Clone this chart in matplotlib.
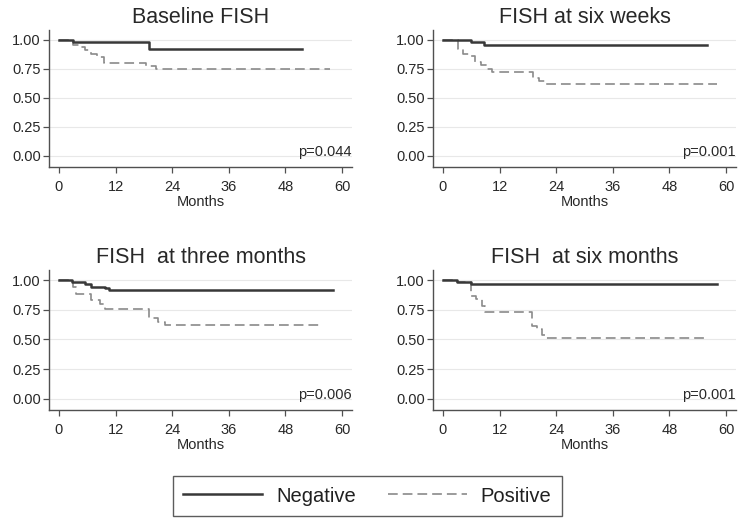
import matplotlib
matplotlib.use("Agg")
import matplotlib.pyplot as plt
from matplotlib.lines import Line2D
import matplotlib.transforms as mtransforms

plt.rcParams['font.family'] = ['Liberation Sans', 'DejaVu Sans']
plt.rcParams['lines.scale_dashes'] = False

titles = ["Baseline FISH", "FISH at six weeks", "FISH  at three months", "FISH  at six months"]
p_values = ["p=0.044", "p=0.001", "p=0.006", "p=0.001"]
x_ticks = [0, 12, 24, 36, 48, 60]
y_ticks = [0.00, 0.25, 0.50, 0.75, 1.00]
legend_labels = ["Negative", "Positive"]

# Kaplan-Meier step data (months, survival) per panel
neg_t1 = [0, 3.0, 19.1, 51.5]
neg_s1 = [1.0, 0.98, 0.92, 0.92]
pos_t1 = [0, 3.0, 4.2, 5.5, 6.8, 8.0, 9.5, 18.5, 20.5, 57.5]
pos_s1 = [1.0, 0.96, 0.94, 0.91, 0.88, 0.85, 0.80, 0.775, 0.75, 0.75]

neg_t2 = [0, 3.1, 5.9, 8.8, 56.0]
neg_s2 = [1.0, 0.995, 0.98, 0.955, 0.955]
pos_t2 = [0, 3.1, 4.3, 5.5, 6.8, 8.0, 9.3, 10.4, 19.0, 20.3, 21.7, 58.0]
pos_s2 = [1.0, 0.92, 0.88, 0.86, 0.81, 0.78, 0.75, 0.725, 0.675, 0.645, 0.62, 0.62]

neg_t3 = [0, 2.7, 5.5, 6.9, 9.7, 10.7, 58.0]
neg_s3 = [1.0, 0.985, 0.965, 0.945, 0.93, 0.918, 0.918]
pos_t3 = [0, 3.0, 3.6, 6.9, 8.6, 9.7, 19.0, 21.0, 22.4, 56.0]
pos_s3 = [1.0, 0.94, 0.88, 0.83, 0.80, 0.76, 0.68, 0.645, 0.62, 0.62]

neg_t4 = [0, 2.9, 5.9, 58.0]
neg_s4 = [1.0, 0.985, 0.963, 0.963]
pos_t4 = [0, 3.0, 5.9, 7.0, 8.2, 9.0, 18.8, 19.9, 21.0, 21.8, 55.5]
pos_s4 = [1.0, 0.985, 0.87, 0.84, 0.78, 0.73, 0.61, 0.585, 0.54, 0.51, 0.51]

neg_t = [neg_t1, neg_t2, neg_t3, neg_t4]
neg_s = [neg_s1, neg_s2, neg_s3, neg_s4]
pos_t = [pos_t1, pos_t2, pos_t3, pos_t4]
pos_s = [pos_s1, pos_s2, pos_s3, pos_s4]

W, H = 746, 525
fig = plt.figure(figsize=(W / 100, H / 100), dpi=100)

# axes boxes in pixels: left, right, top, bottom
boxes = [(49, 352, 30, 167), (433, 736, 30, 167), (49, 352, 270, 410), (433, 736, 270, 410)]

neg_color = '#383838'
pos_color = '#8a8a8a'
dash = (0, (7.0, 3.6))
text_color = '#282828'
spine_color = '#505050'

for i, (l, r, t, b) in enumerate(boxes):
    ax = fig.add_axes([l / W, (H - b) / H, (r - l) / W, (b - t) / H])
    ax.set_xlim(-2.1, 62.1)
    ax.set_ylim(-0.095, 1.085)
    for yv in y_ticks:
        ax.axhline(yv, color='#e8e8e8', lw=0.8, zorder=0)
    ax.step(neg_t[i], neg_s[i], where='post', color=neg_color, lw=1.8, zorder=3)
    ax.step(pos_t[i], pos_s[i], where='post', color=pos_color, lw=1.2, linestyle=dash, zorder=2)
    ax.set_xticks(x_ticks)
    ax.set_yticks(y_ticks)
    ax.set_yticklabels([f"{v:.2f}" for v in y_ticks])
    ax.tick_params(axis='both', labelsize=10.5, colors=spine_color, labelcolor=text_color,
                   length=4, width=0.9, direction='out')
    ax.tick_params(axis='y', pad=2)
    ax.tick_params(axis='x', pad=5.5)
    for s in ['top', 'right']:
        ax.spines[s].set_visible(False)
    for s in ['left', 'bottom']:
        ax.spines[s].set_color(spine_color)
        ax.spines[s].set_linewidth(1.0)
    ax.set_xlabel("Months", fontsize=10.5, color=text_color, labelpad=0.5)
    ax.set_title(titles[i], fontsize=15.5, color=text_color, pad=5)
    trans = mtransforms.blended_transform_factory(ax.transAxes, ax.transData)
    ax.text(0.998, 0.0, p_values[i], transform=trans, ha='right', va='baseline',
            fontsize=10.5, color=text_color)

handles = [Line2D([0], [0], color=neg_color, lw=1.8),
           Line2D([0], [0], color=pos_color, lw=1.2, linestyle=dash)]
leg = fig.legend(handles, legend_labels, loc='center', bbox_to_anchor=(0.4926, 0.0552),
                 ncol=2, fontsize=14.5, frameon=True, fancybox=False, handlelength=3.9,
                 handletextpad=0.7, columnspacing=1.6, borderpad=0.5, borderaxespad=0)
leg.get_frame().set_edgecolor('#333333')
leg.get_frame().set_linewidth(1.0)
for txt in leg.get_texts():
    txt.set_color('#202020')

fig.savefig("out.png", dpi=100)
